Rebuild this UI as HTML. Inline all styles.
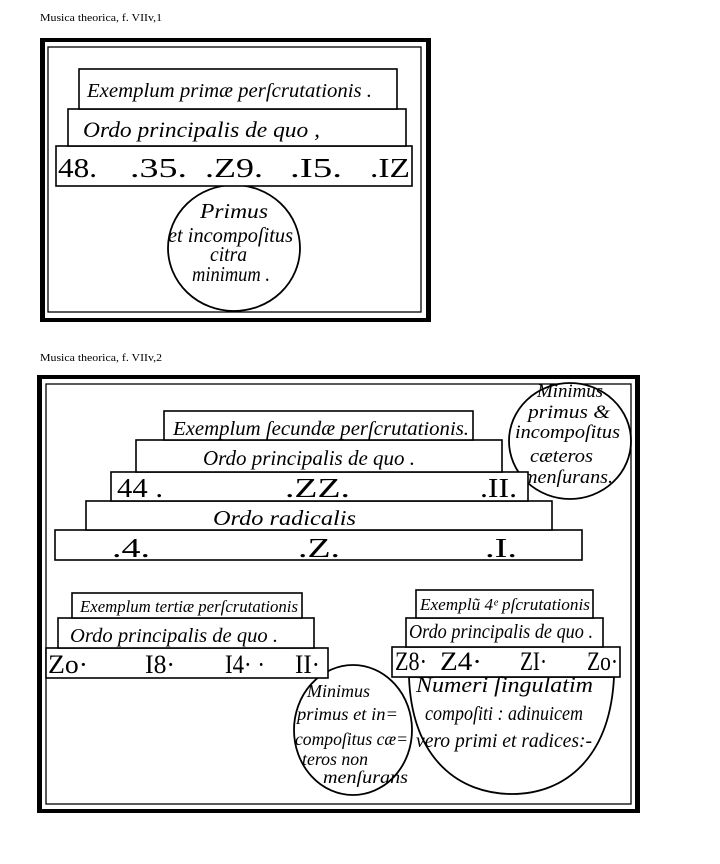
<!DOCTYPE html>
<html>
<head>
<meta charset="utf-8">
<style>
  html, body { margin: 0; padding: 0; background: #fff; }
  svg { display: block; }
  .t { font-family: "Liberation Serif", "DejaVu Serif", serif; fill: #000; }
  .i { font-style: italic; }
  .cap { font-family: "Liberation Serif", serif; font-size: 11px; fill: #000; }
</style>
</head>
<body>
<svg width="720" height="864" viewBox="0 0 720 864" xmlns="http://www.w3.org/2000/svg">
  <rect x="0" y="0" width="720" height="864" fill="#fff"/>

  <!-- ===== Caption 1 ===== -->
  <text class="cap" x="40" y="21" textLength="122" lengthAdjust="spacingAndGlyphs">Musica theorica, f. VIIv,1</text>

  <!-- ===== Frame 1 ===== -->
  <rect x="40" y="38" width="391" height="4" fill="#000"/>
  <rect x="40" y="38" width="5" height="284" fill="#000"/>
  <rect x="426" y="38" width="5" height="284" fill="#000"/>
  <rect x="40" y="318" width="391" height="4" fill="#000"/>
  <rect x="48" y="47" width="373" height="265" fill="none" stroke="#000" stroke-width="1.3"/>

  <!-- circle -->
  <ellipse cx="234" cy="248" rx="66" ry="63" fill="#fff" stroke="#000" stroke-width="1.8"/>

  <!-- boxes -->
  <rect x="56" y="146" width="356" height="40" fill="#fff" stroke="#000" stroke-width="1.6"/>
  <rect x="68" y="109" width="338" height="37" fill="#fff" stroke="#000" stroke-width="1.6"/>
  <rect x="79" y="69" width="318" height="40" fill="#fff" stroke="#000" stroke-width="1.6"/>

  <text class="t i" x="87" y="97" font-size="20" textLength="285" lengthAdjust="spacingAndGlyphs">Exemplum primæ perſcrutationis .</text>
  <text class="t i" x="83" y="137" font-size="22" textLength="237" lengthAdjust="spacingAndGlyphs">Ordo principalis de quo ,</text>

  <text class="t" x="58" y="177" font-size="27" textLength="39" lengthAdjust="spacingAndGlyphs">48.</text>
  <text class="t" x="130" y="177" font-size="27" textLength="57" lengthAdjust="spacingAndGlyphs">.35.</text>
  <text class="t" x="205" y="177" font-size="27" textLength="58" lengthAdjust="spacingAndGlyphs">.Z9.</text>
  <text class="t" x="290" y="177" font-size="27" textLength="52" lengthAdjust="spacingAndGlyphs">.I5.</text>
  <text class="t" x="370" y="177" font-size="27" textLength="40" lengthAdjust="spacingAndGlyphs">.IZ</text>

  <text class="t i" x="200" y="218" font-size="21" textLength="68" lengthAdjust="spacingAndGlyphs">Primus</text>
  <text class="t i" x="168" y="242" font-size="21" textLength="125" lengthAdjust="spacingAndGlyphs">et incompoſitus</text>
  <text class="t i" x="210" y="261" font-size="21" textLength="37" lengthAdjust="spacingAndGlyphs">citra</text>
  <text class="t i" x="192" y="281" font-size="21" textLength="78" lengthAdjust="spacingAndGlyphs">minimum .</text>

  <!-- ===== Caption 2 ===== -->
  <text class="cap" x="40" y="361" textLength="122" lengthAdjust="spacingAndGlyphs">Musica theorica, f. VIIv,2</text>

  <!-- ===== Frame 2 ===== -->
  <rect x="37" y="375" width="603" height="4" fill="#000"/>
  <rect x="37" y="375" width="5" height="438" fill="#000"/>
  <rect x="635" y="375" width="5" height="438" fill="#000"/>
  <rect x="37" y="809" width="603" height="4" fill="#000"/>
  <rect x="46" y="384" width="585" height="420" fill="none" stroke="#000" stroke-width="1.3"/>

  <!-- top-right circle -->
  <ellipse cx="570" cy="441" rx="61" ry="58" fill="#fff" stroke="#000" stroke-width="1.8"/>
  <text class="t i" x="537" y="397" font-size="19" textLength="66" lengthAdjust="spacingAndGlyphs">Minimus</text>
  <text class="t i" x="528" y="418" font-size="19" textLength="82" lengthAdjust="spacingAndGlyphs">primus &amp;</text>
  <text class="t i" x="515" y="438" font-size="19" textLength="105" lengthAdjust="spacingAndGlyphs">incompoſitus</text>
  <text class="t i" x="530" y="462" font-size="19" textLength="63" lengthAdjust="spacingAndGlyphs">cæteros</text>
  <text class="t i" x="523" y="483" font-size="19" textLength="90" lengthAdjust="spacingAndGlyphs">menſurans.</text>

  <!-- stacked boxes (upper) -->
  <rect x="55" y="530" width="527" height="30" fill="#fff" stroke="#000" stroke-width="1.6"/>
  <rect x="86" y="501" width="466" height="29" fill="#fff" stroke="#000" stroke-width="1.6"/>
  <rect x="111" y="472" width="417" height="29" fill="#fff" stroke="#000" stroke-width="1.6"/>
  <rect x="136" y="440" width="366" height="32" fill="#fff" stroke="#000" stroke-width="1.6"/>
  <rect x="164" y="411" width="309" height="29" fill="#fff" stroke="#000" stroke-width="1.6"/>

  <text class="t i" x="173" y="435" font-size="20" textLength="296" lengthAdjust="spacingAndGlyphs">Exemplum ſecundæ perſcrutationis.</text>
  <text class="t i" x="203" y="465" font-size="21" textLength="212" lengthAdjust="spacingAndGlyphs">Ordo principalis de quo .</text>

  <text class="t" x="117" y="497" font-size="27" textLength="46" lengthAdjust="spacingAndGlyphs">44 .</text>
  <text class="t" x="285" y="497" font-size="27" textLength="65" lengthAdjust="spacingAndGlyphs">.ZZ.</text>
  <text class="t" x="480" y="497" font-size="27" textLength="37" lengthAdjust="spacingAndGlyphs">.II.</text>

  <text class="t i" x="213" y="525" font-size="21" textLength="143" lengthAdjust="spacingAndGlyphs">Ordo  radicalis</text>

  <text class="t" x="112" y="557" font-size="27" textLength="38" lengthAdjust="spacingAndGlyphs">.4.</text>
  <text class="t" x="298" y="557" font-size="27" textLength="42" lengthAdjust="spacingAndGlyphs">.Z.</text>
  <text class="t" x="485" y="557" font-size="27" textLength="32" lengthAdjust="spacingAndGlyphs">.I.</text>

  <!-- ===== bottom-left group ===== -->
  <ellipse cx="353" cy="730" rx="59" ry="65" fill="#fff" stroke="#000" stroke-width="1.8"/>
  <rect x="46" y="648" width="282" height="30" fill="#fff" stroke="#000" stroke-width="1.6"/>
  <rect x="58" y="618" width="256" height="30" fill="#fff" stroke="#000" stroke-width="1.6"/>
  <rect x="72" y="593" width="230" height="25" fill="#fff" stroke="#000" stroke-width="1.6"/>

  <text class="t i" x="80" y="612" font-size="17" textLength="218" lengthAdjust="spacingAndGlyphs">Exemplum tertiæ perſcrutationis</text>
  <text class="t i" x="70" y="642" font-size="20" textLength="208" lengthAdjust="spacingAndGlyphs">Ordo principalis de quo .</text>

  <text class="t" x="48" y="673" font-size="26" textLength="40" lengthAdjust="spacingAndGlyphs">Zo·</text>
  <text class="t" x="145" y="673" font-size="26" textLength="30" lengthAdjust="spacingAndGlyphs">I8·</text>
  <text class="t" x="225" y="673" font-size="26" textLength="40" lengthAdjust="spacingAndGlyphs">I4· ·</text>
  <text class="t" x="295" y="673" font-size="26" textLength="25" lengthAdjust="spacingAndGlyphs">II·</text>

  <text class="t i" x="307" y="697" font-size="18" textLength="63" lengthAdjust="spacingAndGlyphs">Minimus</text>
  <text class="t i" x="297" y="720" font-size="18" textLength="101" lengthAdjust="spacingAndGlyphs">primus  et in=</text>
  <text class="t i" x="295" y="745" font-size="18" textLength="113" lengthAdjust="spacingAndGlyphs">compoſitus cæ=</text>
  <text class="t i" x="302" y="765" font-size="18" textLength="66" lengthAdjust="spacingAndGlyphs">teros non</text>
  <text class="t i" x="323" y="783" font-size="18" textLength="85" lengthAdjust="spacingAndGlyphs">menſurans</text>

  <!-- ===== bottom-right group ===== -->
  <path d="M409,677 C412,760 460,794 512,794 C565,794 610,758 614,677 Z" fill="#fff" stroke="#000" stroke-width="1.8"/>
  <rect x="392" y="647" width="228" height="30" fill="#fff" stroke="#000" stroke-width="1.6"/>
  <rect x="406" y="618" width="197" height="29" fill="#fff" stroke="#000" stroke-width="1.6"/>
  <rect x="416" y="590" width="177" height="28" fill="#fff" stroke="#000" stroke-width="1.6"/>

  <text class="t i" x="420" y="610" font-size="17" textLength="170" lengthAdjust="spacingAndGlyphs">Exemplũ 4ᵉ pſcrutationis</text>
  <text class="t i" x="409" y="638" font-size="20" textLength="184" lengthAdjust="spacingAndGlyphs">Ordo principalis de quo .</text>

  <text class="t" x="395" y="670" font-size="26" textLength="32" lengthAdjust="spacingAndGlyphs">Z8·</text>
  <text class="t" x="440" y="670" font-size="26" textLength="42" lengthAdjust="spacingAndGlyphs">Z4·</text>
  <text class="t" x="520" y="670" font-size="26" textLength="27" lengthAdjust="spacingAndGlyphs">ZI·</text>
  <text class="t" x="587" y="670" font-size="26" textLength="31" lengthAdjust="spacingAndGlyphs">Zo·</text>

  <text class="t i" x="416" y="692" font-size="22" textLength="177" lengthAdjust="spacingAndGlyphs">Numeri ſingulatim</text>
  <text class="t i" x="425" y="720" font-size="20" textLength="158" lengthAdjust="spacingAndGlyphs">compoſiti : adinuicem</text>
  <text class="t i" x="416" y="747" font-size="20" textLength="176" lengthAdjust="spacingAndGlyphs">vero primi et radices:-</text>
</svg>
</body>
</html>
